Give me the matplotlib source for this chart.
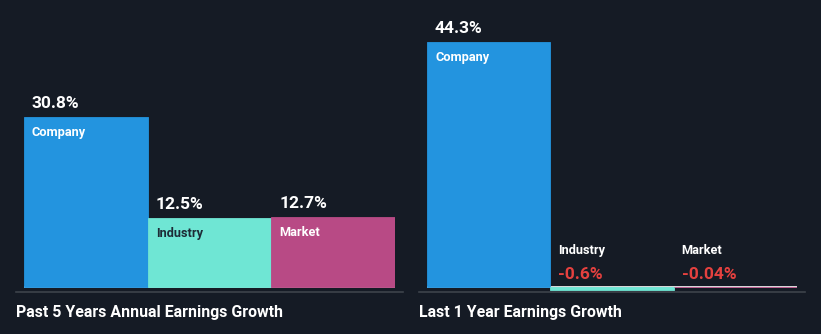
import matplotlib
matplotlib.use("Agg")
import matplotlib.pyplot as plt

# data
categories = ["Company", "Industry", "Market"]
five_year = [30.8, 12.5, 12.7]
one_year = [44.3, -0.6, -0.04]
titles = ["Past 5 Years Annual Earnings Growth", "Last 1 Year Earnings Growth"]

bg = "#151b25"
bar_colors = ["#2394df", "#6fe6d4", "#b84a85"]
label_colors = ["white", "#1d2b36", "white"]
neg_color = "#e5413f"

plt.rcParams["font.family"] = ["Roboto", "DejaVu Sans"]

W, H = 821, 334
fig = plt.figure(figsize=(W / 100, H / 100), dpi=100, facecolor=bg)

px_per_pct = 5.52
base_px = H - 287  # baseline from bottom
ylim = (-base_px / px_per_pct, (H - base_px) / px_per_pct)


def panel(x0, x1, values, title, line_x0, line_x1):
    ax = fig.add_axes([x0 / W, 0, (x1 - x0) / W, 1])
    ax.set_facecolor("none")
    ax.set_xlim(-0.5, len(values) - 0.5)
    ax.set_ylim(*ylim)
    ax.axis("off")
    ax.hlines(0, -0.5, len(values) - 0.5, color="white", linewidth=1.2, zorder=1)
    ax.bar(range(len(values)), values, width=1.0, color=bar_colors,
           edgecolor=bar_colors, linewidth=0.6, zorder=2)
    for i, (cat, v) in enumerate(zip(categories, values)):
        left = i - 0.5
        txt = f"{v:g}%"
        if v >= 0:
            ax.annotate(txt, (left, v), xytext=(8, 9), textcoords="offset pixels",
                        color="white", fontsize=12.5, fontweight="bold",
                        ha="left", va="baseline")
            ax.annotate(cat, (left, v), xytext=(8, -19), textcoords="offset pixels",
                        color=label_colors[i], fontsize=9.2, fontweight="bold",
                        ha="left", va="baseline")
        else:
            ax.annotate(txt, (left, 0), xytext=(8, 8), textcoords="offset pixels",
                        color=neg_color, fontsize=12.5, fontweight="bold",
                        ha="left", va="baseline")
            ax.annotate(cat, (left, 0), xytext=(8, 33), textcoords="offset pixels",
                        color="white", fontsize=9.2, fontweight="bold",
                        ha="left", va="baseline")
    fig.add_artist(plt.Line2D([line_x0 / W, line_x1 / W], [(H - 292) / H] * 2,
                              color="#3d434b", linewidth=1.2))
    fig.text(line_x0 / W, (H - 317) / H, title, color="white", fontsize=11.4,
             fontweight="bold", ha="left", va="baseline")


panel(24, 395, five_year, titles[0], 16, 403)
panel(427, 797, one_year, titles[1], 419, 805)

fig.savefig("out.png", dpi=100, facecolor=bg)
